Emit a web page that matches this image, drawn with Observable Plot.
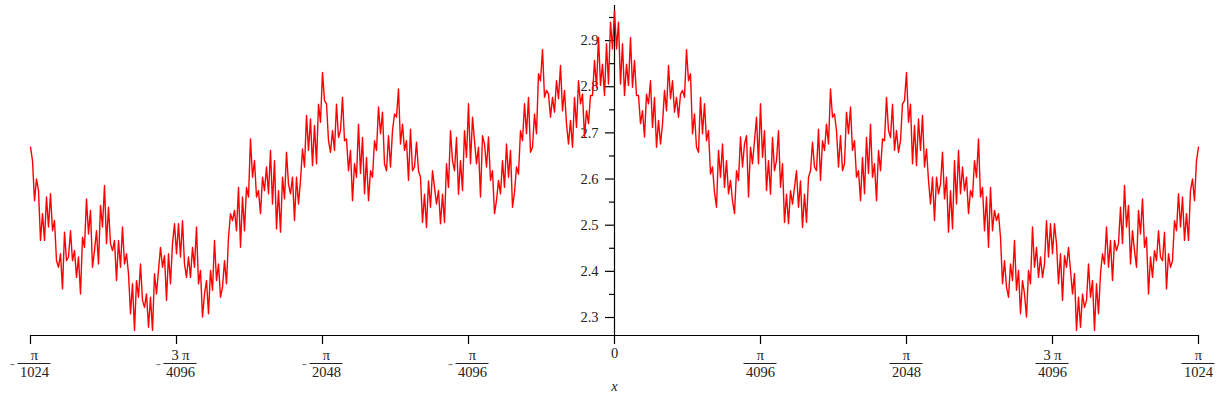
<!DOCTYPE html>
<html>
<head>
<meta charset="utf-8">
<script src="https://cdn.jsdelivr.net/npm/d3@7"></script>
<script src="https://cdn.jsdelivr.net/npm/@observablehq/plot@0.6"></script>
<style>
  html, body { margin: 0; padding: 0; background: #fff; }
  #chart { width: 1222px; height: 400px; }
  #chart svg text { font-family: "Liberation Serif", "Times New Roman", serif; }
</style>
</head>
<body>
<div id="chart"></div>
<script>
// x sampled on a uniform grid of 292 steps per half, from -π/1024 to π/1024
const xUnit = Math.PI / 1024;
const stepsPerHalf = 292;

// values, left half (x < 0), from x = -π/1024 towards 0
const leftValues = [
  2.669, 2.640, 2.553, 2.600, 2.575, 2.467, 2.525, 2.467, 2.561, 2.496,
  2.568, 2.488, 2.510, 2.423, 2.409, 2.438, 2.362, 2.485, 2.423, 2.431,
  2.488, 2.423, 2.445, 2.387, 2.431, 2.351, 2.474, 2.452, 2.557, 2.481,
  2.532, 2.409, 2.445, 2.488, 2.416, 2.543, 2.496, 2.586, 2.460, 2.539,
  2.460, 2.445, 2.467, 2.380, 2.467, 2.409, 2.496, 2.416, 2.438, 2.395,
  2.308, 2.373, 2.272, 2.380, 2.344, 2.416, 2.337, 2.322, 2.351, 2.279,
  2.344, 2.272, 2.395, 2.351, 2.402, 2.452, 2.409, 2.434, 2.337, 2.438,
  2.373, 2.460, 2.503, 2.438, 2.503, 2.431, 2.510, 2.416, 2.387, 2.431,
  2.387, 2.452, 2.409, 2.496, 2.373, 2.402, 2.301, 2.351, 2.380, 2.308,
  2.402, 2.359, 2.467, 2.380, 2.416, 2.344, 2.366, 2.423, 2.373, 2.474,
  2.525, 2.510, 2.532, 2.488, 2.582, 2.452, 2.561, 2.488, 2.582, 2.561,
  2.687, 2.604, 2.640, 2.561, 2.575, 2.525, 2.604, 2.575, 2.626, 2.568,
  2.662, 2.546, 2.640, 2.492, 2.575, 2.485, 2.604, 2.557, 2.658, 2.589,
  2.568, 2.604, 2.510, 2.604, 2.546, 2.597, 2.665, 2.626, 2.738, 2.662,
  2.730, 2.629, 2.716, 2.633, 2.762, 2.723, 2.831, 2.770, 2.763, 2.683,
  2.658, 2.705, 2.662, 2.762, 2.690, 2.705, 2.777, 2.683, 2.687, 2.618,
  2.662, 2.553, 2.633, 2.604, 2.719, 2.612, 2.690, 2.568, 2.647, 2.553,
  2.618, 2.604, 2.683, 2.662, 2.756, 2.698, 2.745, 2.633, 2.618, 2.694,
  2.626, 2.705, 2.741, 2.734, 2.795, 2.676, 2.719, 2.662, 2.683, 2.597,
  2.708, 2.618, 2.626, 2.680, 2.618, 2.604, 2.506, 2.567, 2.495, 2.596,
  2.539, 2.618, 2.582, 2.546, 2.575, 2.503, 2.567, 2.506, 2.633, 2.582,
  2.705, 2.640, 2.618, 2.690, 2.567, 2.640, 2.575, 2.705, 2.647, 2.763,
  2.633, 2.734, 2.683, 2.633, 2.669, 2.561, 2.694, 2.676, 2.626, 2.691,
  2.597, 2.618, 2.525, 2.553, 2.597, 2.568, 2.640, 2.582, 2.676, 2.604,
  2.662, 2.539, 2.571, 2.626, 2.611, 2.705, 2.683, 2.763, 2.698, 2.777,
  2.658, 2.669, 2.741, 2.698, 2.828, 2.813, 2.880, 2.777, 2.792, 2.784,
  2.734, 2.777, 2.745, 2.813, 2.774, 2.846, 2.748, 2.792, 2.719, 2.676,
  2.727, 2.669, 2.777, 2.712, 2.813, 2.763, 2.784, 2.691, 2.748, 2.720,
  2.781, 2.781, 2.857, 2.799, 2.907, 2.803, 2.849, 2.781, 2.893, 2.806,
  2.940, 2.882
];

// values, right half (x >= 0), from 0 to π/1024
const rightValues = [
  2.965, 2.882, 2.940, 2.806, 2.893, 2.781, 2.849, 2.803, 2.907, 2.799,
  2.857, 2.781, 2.781, 2.720, 2.748, 2.691, 2.784, 2.763, 2.813, 2.712,
  2.777, 2.669, 2.727, 2.676, 2.719, 2.792, 2.748, 2.846, 2.774, 2.813,
  2.745, 2.777, 2.734, 2.784, 2.792, 2.777, 2.880, 2.813, 2.828, 2.698,
  2.741, 2.669, 2.658, 2.777, 2.698, 2.763, 2.683, 2.705, 2.611, 2.626,
  2.571, 2.539, 2.662, 2.604, 2.676, 2.582, 2.640, 2.568, 2.597, 2.553,
  2.525, 2.618, 2.597, 2.691, 2.626, 2.676, 2.694, 2.561, 2.669, 2.633,
  2.683, 2.734, 2.633, 2.763, 2.647, 2.705, 2.575, 2.640, 2.567, 2.690,
  2.618, 2.640, 2.705, 2.582, 2.633, 2.506, 2.567, 2.503, 2.575, 2.546,
  2.582, 2.618, 2.539, 2.596, 2.495, 2.567, 2.506, 2.604, 2.618, 2.680,
  2.626, 2.618, 2.708, 2.597, 2.683, 2.662, 2.719, 2.676, 2.795, 2.734,
  2.741, 2.705, 2.626, 2.694, 2.618, 2.633, 2.745, 2.698, 2.756, 2.662,
  2.683, 2.604, 2.618, 2.553, 2.647, 2.568, 2.690, 2.612, 2.719, 2.604,
  2.633, 2.553, 2.662, 2.618, 2.687, 2.683, 2.777, 2.705, 2.690, 2.762,
  2.662, 2.705, 2.658, 2.683, 2.763, 2.770, 2.831, 2.723, 2.762, 2.633,
  2.716, 2.629, 2.730, 2.662, 2.738, 2.626, 2.665, 2.597, 2.546, 2.604,
  2.510, 2.604, 2.568, 2.589, 2.658, 2.557, 2.604, 2.485, 2.575, 2.492,
  2.640, 2.546, 2.662, 2.568, 2.626, 2.575, 2.604, 2.525, 2.575, 2.561,
  2.640, 2.604, 2.687, 2.561, 2.582, 2.488, 2.561, 2.452, 2.582, 2.488,
  2.532, 2.510, 2.525, 2.474, 2.373, 2.423, 2.366, 2.344, 2.416, 2.380,
  2.467, 2.359, 2.402, 2.308, 2.380, 2.351, 2.301, 2.402, 2.373, 2.496,
  2.409, 2.452, 2.387, 2.431, 2.387, 2.416, 2.510, 2.431, 2.503, 2.438,
  2.503, 2.460, 2.373, 2.438, 2.337, 2.434, 2.409, 2.452, 2.402, 2.351,
  2.395, 2.272, 2.344, 2.279, 2.351, 2.322, 2.337, 2.416, 2.344, 2.380,
  2.272, 2.373, 2.308, 2.395, 2.438, 2.416, 2.496, 2.409, 2.467, 2.380,
  2.467, 2.445, 2.460, 2.539, 2.460, 2.586, 2.496, 2.543, 2.416, 2.488,
  2.445, 2.409, 2.532, 2.481, 2.557, 2.452, 2.474, 2.351, 2.431, 2.387,
  2.445, 2.423, 2.488, 2.431, 2.423, 2.485, 2.362, 2.438, 2.409, 2.423,
  2.510, 2.488, 2.568, 2.496, 2.561, 2.467, 2.525, 2.467, 2.575, 2.600,
  2.553, 2.640, 2.669
];

// x tick positions in units of π/4096, and their labels
const xTickUnits = [-4, -3, -2, -1, 0, 1, 2, 3, 4];
const xTickSign = ["-", "-", "-", "-", "", "", "", "", ""];
const xTickNum = ["π", "3 π", "π", "π", "0", "π", "π", "3 π", "π"];
const xTickDen = ["1024", "4096", "2048", "4096", "", "4096", "2048", "4096", "1024"];

// y ticks
const yMajorTicks = [2.3, 2.4, 2.5, 2.6, 2.7, 2.8, 2.9];
const yMinorTicks = [2.35, 2.45, 2.55, 2.65, 2.75, 2.85, 2.95];

const yMin = 2.261, yMax = 2.976;

const allValues = leftValues.concat(rightValues);
const curve = allValues.map((v, j) => ({x: (j - leftValues.length) / stepsPerHalf * xUnit, y: v}));

const xTicks = xTickUnits.map((u, i) => ({
  x: u * Math.PI / 4096,
  sign: xTickSign[i],
  num: xTickNum[i],
  den: xTickDen[i],
  neg: u < 0
}));
const fracTicks = xTicks.filter(d => d.den !== "");
const negTicks = xTicks.filter(d => d.neg);
const posFrac = fracTicks.filter(d => !d.neg);
const negFrac = fracTicks.filter(d => d.neg);
const zeroTick = xTicks.filter(d => d.den === "");

const font = '"Liberation Serif", "Times New Roman", serif';
const textColor = "#222";
const t = {fontFamily: font, fontSize: 14.5, fill: textColor};

const chart = Plot.plot({
  width: 1222,
  height: 400,
  marginLeft: 30,
  marginRight: 24,
  marginTop: 5,
  marginBottom: 65,
  x: {domain: [-xUnit, xUnit], axis: null},
  y: {domain: [yMin, yMax], axis: null},
  style: {fontFamily: font, background: "white", overflow: "visible"},
  marks: [
    // x axis line
    Plot.ruleY([yMin], {stroke: "black", strokeWidth: 1.2}),
    // x ticks (downward)
    Plot.ruleX(xTicks, {x: "x", y1: yMin, y2: yMin, insetBottom: -9, stroke: "black", strokeWidth: 1.2}),
    // y axis line at x = 0
    Plot.ruleX([0], {y1: yMin, y2: yMax, stroke: "black", strokeWidth: 1.2}),
    // y major & minor ticks (to the left)
    Plot.ruleY(yMajorTicks, {y: d => d, x1: 0, x2: 0, insetLeft: -9, stroke: "black", strokeWidth: 1.2}),
    Plot.ruleY(yMinorTicks, {y: d => d, x1: 0, x2: 0, insetLeft: -5, stroke: "black", strokeWidth: 1.2}),
    // y tick labels
    Plot.text(yMajorTicks, {...t, x: 0, y: d => d, text: d => d.toFixed(1), textAnchor: "end", dx: -16}),
    // x tick labels: fractions
    Plot.text(negFrac, {...t, x: "x", y: yMin, text: "num", dx: 4, dy: 20}),
    Plot.text(negFrac, {...t, x: "x", y: yMin, text: "den", dx: 4, dy: 37}),
    Plot.ruleY(negFrac, {y: yMin, x1: "x", x2: "x", insetLeft: -12.5, insetRight: -20.5, dy: 28, stroke: textColor, strokeWidth: 1}),
    Plot.text(negTicks, {...t, x: "x", y: yMin, text: "sign", dx: -18, dy: 28, fill: "#777"}),
    Plot.text(posFrac, {...t, x: "x", y: yMin, text: "num", dy: 20}),
    Plot.text(posFrac, {...t, x: "x", y: yMin, text: "den", dy: 37}),
    Plot.ruleY(posFrac, {y: yMin, x1: "x", x2: "x", insetLeft: -16.5, insetRight: -16.5, dy: 28, stroke: textColor, strokeWidth: 1}),
    Plot.text(zeroTick, {...t, x: "x", y: yMin, text: "num", dy: 18}),
    // x axis title
    Plot.text(["x"], {...t, x: 0, y: yMin, text: d => d, dy: 51, fontStyle: "italic"}),
    // the curve
    Plot.line(curve, {x: "x", y: "y", stroke: "#ff0000", strokeWidth: 1.4})
  ]
});
document.getElementById("chart").appendChild(chart);
</script>
</body>
</html>
